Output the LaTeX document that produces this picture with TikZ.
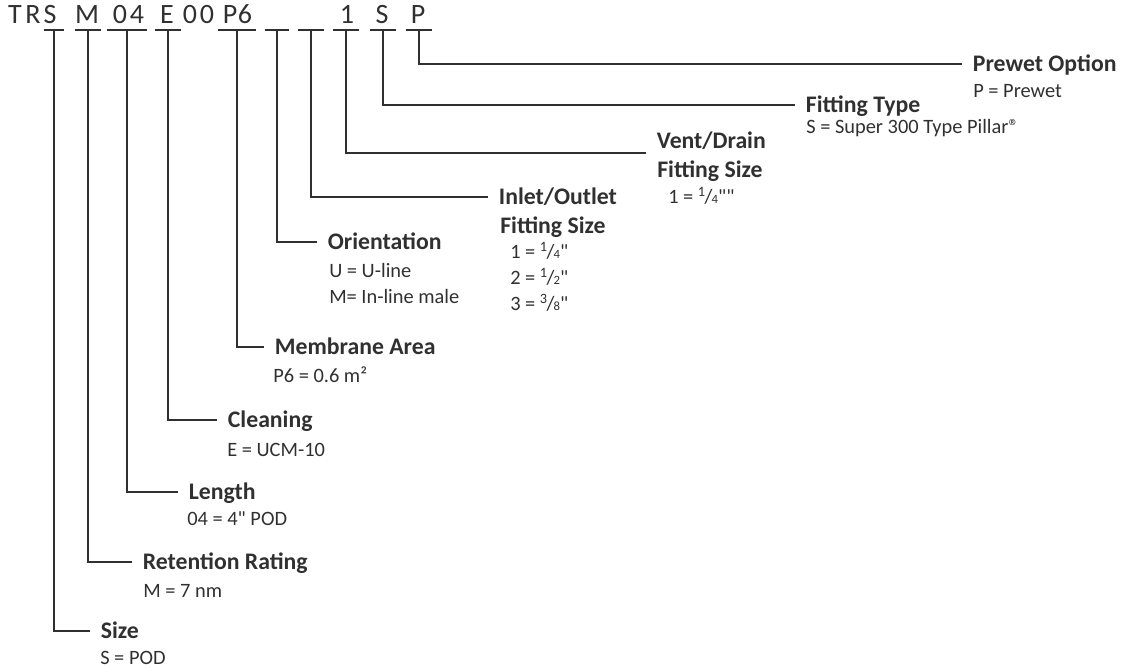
\documentclass[tikz,border=0pt]{standalone}
\usepackage{fontspec}
\setmainfont{Carlito}
\definecolor{ink}{HTML}{303030}
\newcommand{\frc}[2]{\textsuperscript{#1}\kern-.06em/\kern-.04em{\fontsize{9.5}{10}\selectfont #2}}
\newcommand{\inch}{\textquotedbl}

\begin{document}
\begin{tikzpicture}[x=0.75pt, y=-0.75pt, ink,
  digit/.style={anchor=base, inner sep=0pt, font=\fontsize{21}{24}\selectfont},
  bar/.style={inner sep=0pt, minimum height=0pt, minimum width=#1},
  field/.style={anchor=west, inner xsep=8pt, inner ysep=0pt, text height=15pt, text depth=3.5pt,
    font=\fontsize{17.8}{21}\selectfont\bfseries},
  meaning/.style={anchor=base west, inner sep=0pt, font=\fontsize{15.3}{18}\selectfont},
  leader/.style={draw=ink, line width=1.5pt}]
\useasboundingbox (0,0) rectangle (1131,671);
% ordering code
\node[digit] (c1) at (15,23) {T};
\node[digit] (c2) at (33,23) {R};
\node[digit] (c3) at (50,23) {S};
\node[digit] (c4) at (87,23) {M};
\node[digit] (c5) at (120,23) {0};
\node[digit] (c6) at (137,23) {4};
\node[digit] (c7) at (167,23) {E};
\node[digit] (c8) at (190,23) {0};
\node[digit] (c9) at (207,23) {0};
\node[digit] (c10) at (230,23) {P};
\node[digit] (c11) at (245,23) {6};
\node[digit] (c12) at (347,23) {1};
\node[digit] (c13) at (382,23) {S};
\node[digit] (c14) at (418,23) {P};
% bars under the code
\node[bar=15pt] (k1) at (54,29.5) {};
\node[bar=18.75pt] (k2) at (88,29.5) {};
\node[bar=29.25pt] (k3) at (127,29.5) {};
\node[bar=18.75pt] (k4) at (168,29.5) {};
\node[bar=27.75pt] (k5) at (237,29.5) {};
\node[bar=18pt] (k6) at (277,29.5) {};
\node[bar=18.75pt] (k7) at (311,29.5) {};
\node[bar=18.75pt] (k8) at (346,29.5) {};
\node[bar=18.75pt] (k9) at (383,29.5) {};
\node[bar=18.75pt] (k10) at (419,29.5) {};
% field names
\node[field] (h1) at (962,64) {Prewet Option};
\node[field] (h2) at (795,105) {Fitting Type};
\node[field, anchor=south west] (h3) at (646,153) {Vent/Drain};
\node[field, anchor=base west, inner xsep=0pt] (h3b) at (657,177) {Fitting Size};
\node[field] (h4) at (488,197) {Inlet/Outlet};
\node[field, anchor=base west, inner xsep=0pt] (h4b) at (500,233) {Fitting Size};
\node[field] (h5) at (317,242) {Orientation};
\node[field] (h6) at (264,347) {Membrane Area};
\node[field] (h7) at (217,420) {Cleaning};
\node[field] (h8) at (178,492) {Length};
\node[field] (h9) at (132,562) {Retention Rating};
\node[field] (h10) at (90,631) {Size};
% options
\node[meaning] (d1) at (973,97) {P = Prewet};
\node[meaning] (d2) at (806,133) {S = Super 300 Type Pillar®};
\node[meaning] (d3) at (668,203) {1 = \frc{1}{4}\inch\inch};
\node[meaning] (d4a) at (510,258) {1 = \frc{1}{4}\inch};
\node[meaning] (d4b) at (510,284) {2 = \frc{1}{2}\inch};
\node[meaning] (d4c) at (510,310) {3 = \frc{3}{8}\inch};
\node[meaning] (d5a) at (329,277) {U = U-line};
\node[meaning] (d5b) at (329,303) {M= In-line male};
\node[meaning] (d6) at (273,382) {P6 = 0.6 m²};
\node[meaning] (d7) at (227,456) {E = UCM-10};
\node[meaning] (d8) at (187,525) {04 = 4\inch{} POD};
\node[meaning] (d9) at (143,597) {M = 7 nm};
\node[meaning] (d10) at (100,664) {S = POD};
% leaders
\draw[leader] (k1.west) -- (k1.east) (k1) |- (h10.west);
\draw[leader] (k2.west) -- (k2.east) (k2) |- (h9.west);
\draw[leader] (k3.west) -- (k3.east) (k3) |- (h8.west);
\draw[leader] (k4.west) -- (k4.east) (k4) |- (h7.west);
\draw[leader] (k5.west) -- (k5.east) (k5) |- (h6.west);
\draw[leader] (k6.west) -- (k6.east) (k6) |- (h5.west);
\draw[leader] (k7.west) -- (k7.east) (k7) |- (h4.west);
\draw[leader] (k8.west) -- (k8.east) (k8) |- (h3.south west);
\draw[leader] (k9.west) -- (k9.east) (k9) |- (h2.west);
\draw[leader] (k10.west) -- (k10.east) (k10) |- (h1.west);
\end{tikzpicture}
\end{document}
